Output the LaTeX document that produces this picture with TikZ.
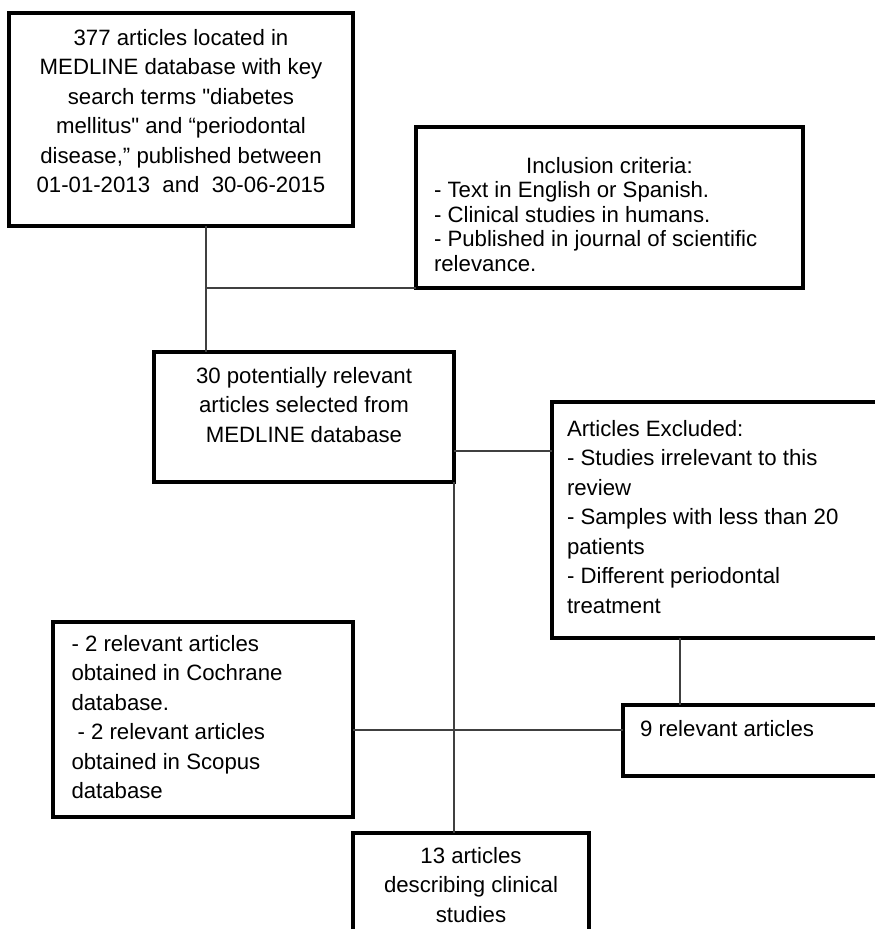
\documentclass[tikz,border=0pt]{standalone}
\usepackage{fontspec}
\newfontfamily\plainsans{Liberation Sans}
\tikzset{
  box/.style={draw=black, line width=3.5pt, rectangle, inner sep=0pt, outer sep=0pt},
  txt/.style={inner sep=0pt, outer sep=0pt, text=black, font=\plainsans\fontsize{22.2}{29.5}\selectfont},
  txttight/.style={inner sep=0pt, outer sep=0pt, text=black, font=\plainsans\fontsize{22.2}{24.5}\selectfont},
  conn/.style={draw=black!75, line width=1.3pt},
}
\begin{document}
\begin{tikzpicture}[x=1pt,y=-1pt]
\useasboundingbox (0,0) rectangle (875,929);
\fill[white] (0,0) rectangle (875,929);
\clip (0,0) rectangle (875,929);

% boxes
\node[box, minimum width=344pt, minimum height=213pt] (b1) at (181,119.5) {};
\node[box, minimum width=387pt, minimum height=161pt] (inc) at (609.5,207.5) {};
\node[box, minimum width=300pt, minimum height=130pt] (b30) at (304,417) {};
\node[box, minimum width=348pt, minimum height=236pt] (ex) at (726,520) {};
\node[box, minimum width=300pt, minimum height=195pt] (lb) at (203,719.5) {};
\node[box, minimum width=277pt, minimum height=71pt] (r9) at (761.5,740.5) {};
\node[box, minimum width=236pt, minimum height=127pt] (b13) at (471,896.5) {};

% texts
\node[txt, align=center, anchor=north] (t1) at (181,24.35)
  {\strut 377 articles located in\\
   MEDLINE database with key\\
   search terms \symbol{34}diabetes\\
   mellitus\symbol{34} and “periodontal\\
   disease,” published between\\
   01-01-2013\ \ and\ \ 30-06-2015};
\node[txttight, anchor=base] (tinc1) at (609.5,173) {Inclusion criteria:};
\node[txttight, align=left, anchor=north west] (tinc2) at (434,180.35)
  {\strut - Text in English or Spanish.\\
   - Clinical studies in humans.\\
   - Published in journal of scientific\\
   relevance.};
\node[txt, align=center, anchor=north] (t30) at (304,362.35)
  {\strut 30 potentially relevant\\
   articles selected from\\
   MEDLINE database};
\node[txt, align=left, anchor=north west] (tex) at (567,415.35)
  {\strut Articles Excluded:\\
   - Studies irrelevant to this\\
   review\\
   - Samples with less than 20\\
   patients\\
   - Different periodontal\\
   treatment};
\node[txt, align=left, anchor=north west] (tlb) at (71.5,630.35)
  {\strut - 2 relevant articles\\
   obtained in Cochrane\\
   database.\\
   \hspace*{6pt}- 2 relevant articles\\
   obtained in Scopus\\
   database};
\node[txt, anchor=base west] (t9) at (640,736) {9 relevant articles};
\node[txt, align=center, anchor=north] (t13) at (471,842.35)
  {\strut 13 articles\\
   describing clinical\\
   studies};

% connectors
\coordinate (j1) at (206,288);
\coordinate (j2) at (454,451);
\coordinate (j3) at (454,730);
\coordinate (j4) at (680,680);
\draw[conn] (b1.south -| j1) -- (b30.north -| j1);
\draw[conn] (j1) -- (inc.south west);
\draw[conn] (j2) -- (j2 -| ex.west);
\draw[conn] (b30.south east) -- (b30.south east |- b13.north);
\draw[conn] (lb.east |- j3) -- (j3 -| r9.west);
\draw[conn] (ex.south -| j4) -- (r9.north -| j4);
\end{tikzpicture}
\end{document}
